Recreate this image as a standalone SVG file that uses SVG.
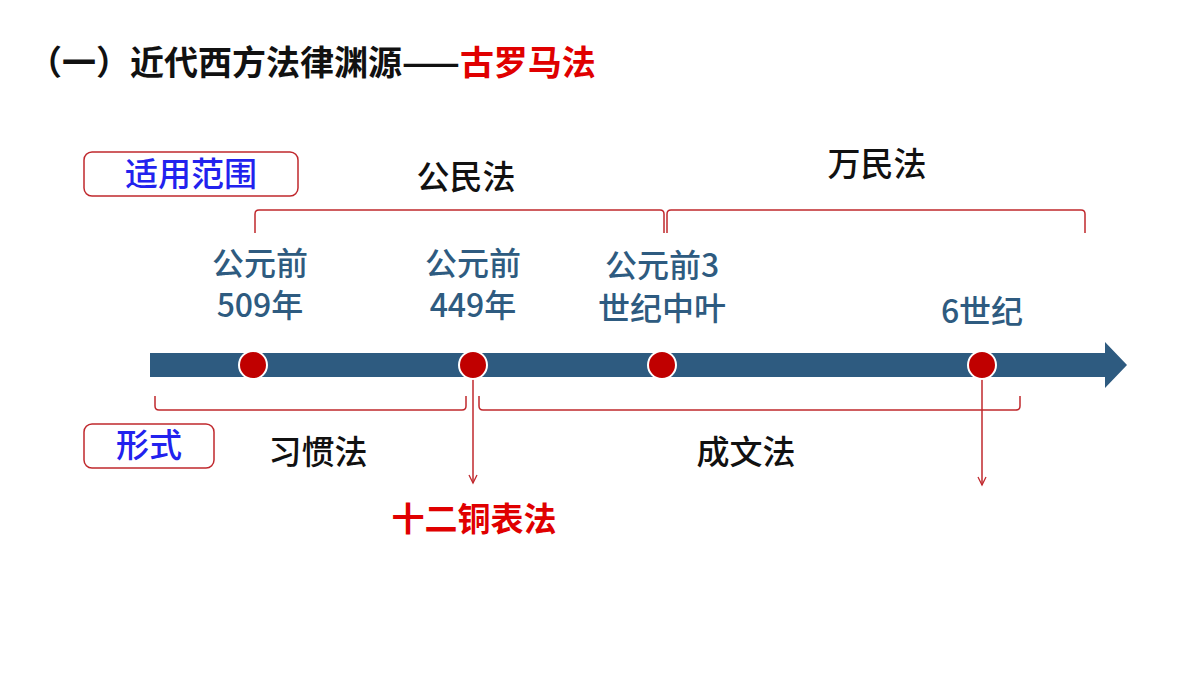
<svg xmlns="http://www.w3.org/2000/svg" width="1200" height="675" viewBox="0 0 1200 675">
<style>
text{font-family:"Noto Sans CJK SC","Noto Sans",sans-serif;font-weight:500}
.d{fill:#2e5b80;font-size:32px;text-anchor:middle}
.b{fill:#111;font-size:33px;text-anchor:middle}
.lb{fill:#2222ee;font-size:33px;text-anchor:middle}
.tt{font-size:34px;font-weight:bold;fill:#111}
.rd{font-size:33px;font-weight:bold;fill:#e00000;text-anchor:middle}
.br{fill:none;stroke:#c0282d;stroke-width:1.5}
.dot{fill:#c00000;stroke:#fff;stroke-width:2}
</style>
<defs><marker id="ar" markerWidth="12" markerHeight="12" refX="9" refY="5" orient="auto" markerUnits="userSpaceOnUse"><path d="M1,1 L9,5 L1,9" fill="none" stroke="#c0282d" stroke-width="1.3"/></marker></defs>
<rect width="1200" height="675" fill="#fff"/>
<text class="tt" x="28" y="75">（一）近代西方法律渊源——<tspan fill="#e00000">古罗马法</tspan></text>
<g id="label-scope"><rect x="84" y="152" width="214" height="44" rx="8" fill="#fff" stroke="#c0282d" stroke-width="1.5"/><text class="lb" x="191" y="186">适用范围</text></g>
<g id="label-form"><rect x="84" y="424" width="130" height="44" rx="8" fill="#fff" stroke="#c0282d" stroke-width="1.5"/><text class="lb" x="149" y="457">形式</text></g>
<g id="timeline"><path d="M150,353 H1105 V342 L1127,365 L1105,388 V377 H150 Z" fill="#2e5b80"/></g>
<g id="connectors">
<path class="br" d="M255,233 V214 Q255,210 259,210 H660 Q664,210 664,214 V233"/>
<path class="br" d="M667,233 V214 Q667,210 671,210 H1081 Q1085,210 1085,214 V233"/>
<path class="br" d="M155,396 V406 Q155,410 159,410 H462 Q466,410 466,406 V396"/>
<path class="br" d="M479,396 V406 Q479,410 483,410 H1016 Q1020,410 1020,406 V396"/>
<line class="br" x1="473" y1="365" x2="473" y2="483" marker-end="url(#ar)"/>
<line class="br" x1="982" y1="365" x2="982" y2="485" marker-end="url(#ar)"/>
</g>
<g id="e509"><circle class="dot" cx="253" cy="365" r="14"/><text class="d" x="260" y="275">公元前</text><text class="d" x="260" y="317">509年</text></g>
<g id="e449"><circle class="dot" cx="473" cy="365" r="14"/><text class="d" x="473" y="275">公元前</text><text class="d" x="473" y="317">449年</text></g>
<g id="e3c"><circle class="dot" cx="662" cy="365" r="14"/><text class="d" x="662" y="277">公元前3</text><text class="d" x="662" y="320">世纪中叶</text></g>
<g id="e6c"><circle class="dot" cx="982" cy="365" r="14"/><text class="d" x="982" y="323">6世纪</text></g>
<g id="civil"><text class="b" x="466" y="189">公民法</text></g>
<g id="gentium"><text class="b" x="877" y="176">万民法</text></g>
<g id="custom"><text class="b" x="318" y="464">习惯法</text></g>
<g id="written"><text class="b" x="746" y="464">成文法</text></g>
<g id="twelve"><text class="rd" x="474" y="531">十二铜表法</text></g>
</svg>
